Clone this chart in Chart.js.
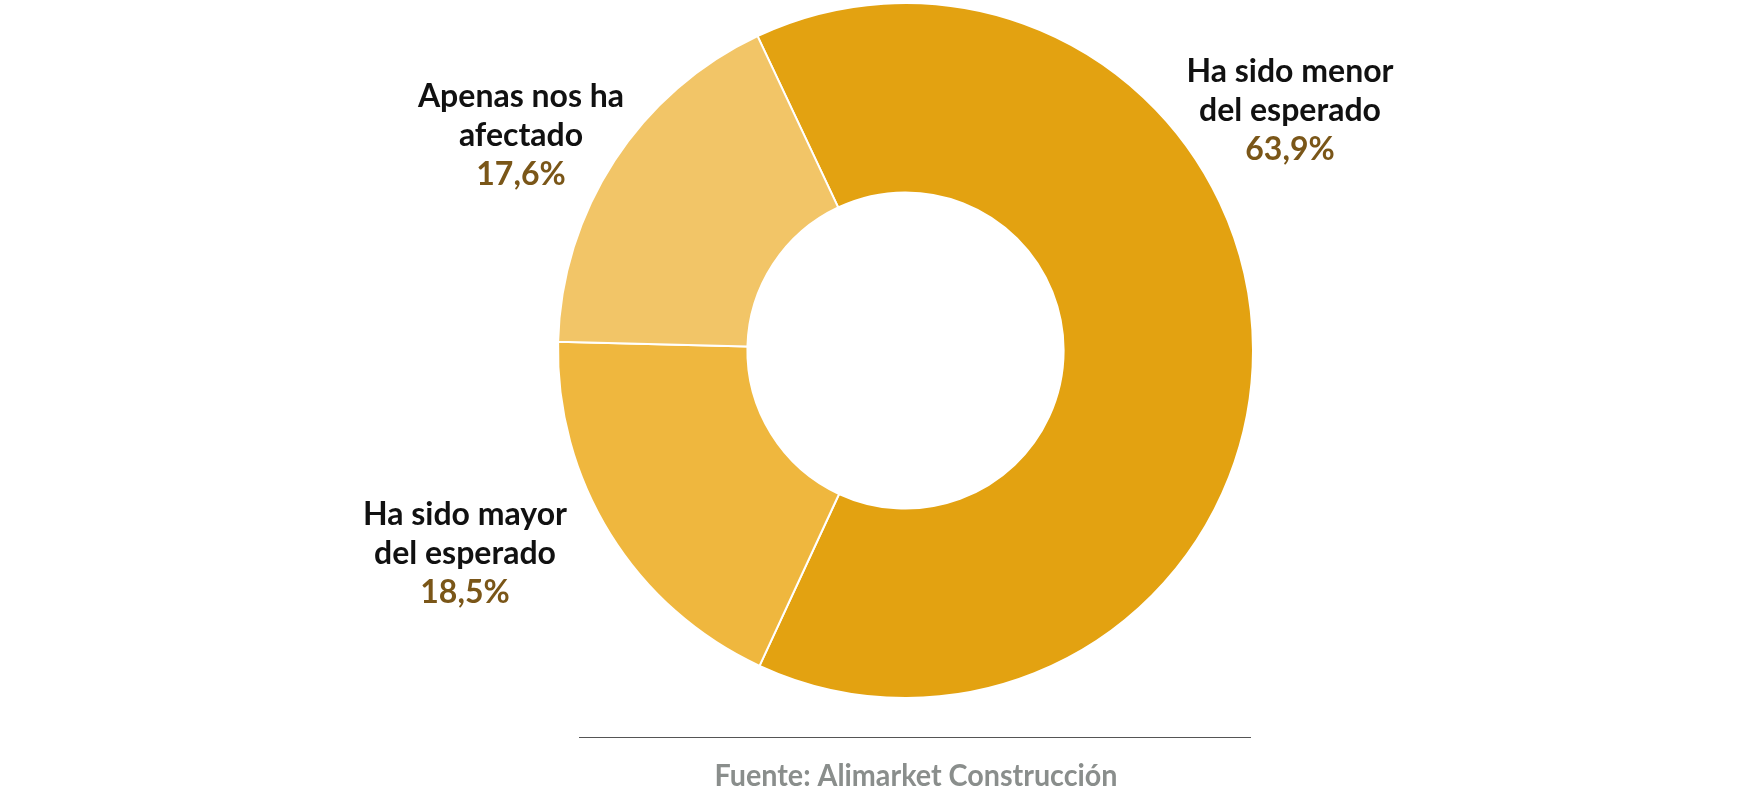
<!DOCTYPE html>
<html>
<head>
<meta charset="utf-8">
<script src="https://cdn.jsdelivr.net/npm/chart.js@4.4.1/dist/chart.umd.min.js"></script>
<style>
  html, body { margin: 0; padding: 0; background: #fff; }
  #wrap { width: 1760px; height: 795px; position: relative; }
</style>
</head>
<body>
<div id="wrap"><canvas id="chartDonut"></canvas></div>
<script>
// ================= DATI =================

const categorie = ["Ha sido menor del esperado", "Ha sido mayor del esperado", "Apenas nos ha afectado"];
const valori = [63.9, 18.5, 17.6];
const colori = ["#e3a211", "#efb73e", "#f2c567"];

// righe delle etichette e posizione (px) del centro del blocco di testo
const righeEtichette = [
    ["Ha sido menor", "del esperado"],
    ["Ha sido mayor", "del esperado"],
    ["Apenas nos ha", "afectado"]
];
const posEtichette = [
    { x: 1290, y: 82 },
    { x: 465, y: 525 },
    { x: 521, y: 107 }
];

const fonte = "Fuente: Alimarket Construcción";

const formatta = v => v.toFixed(1).replace(".", ",") + "%";

// ================= PLUGIN ETICHETTE =================

const etichette = {
    id: "etichette",
    afterDraw(chart) {
        const ctx = chart.ctx;
        ctx.save();
        ctx.textAlign = "center";
        ctx.textBaseline = "alphabetic";

        valori.forEach((v, i) => {
            const p = posEtichette[i];
            ctx.font = "bold 32px Lato";
            ctx.fillStyle = "#111111";
            righeEtichette[i].forEach((r, j) => {
                ctx.fillText(r, p.x, p.y + j * 39);
            });
            ctx.fillStyle = "#7a5618";
            ctx.fillText(formatta(v), p.x, p.y + righeEtichette[i].length * 39);
        });

        // linea e fonte
        ctx.strokeStyle = "#555555";
        ctx.lineWidth = 1;
        ctx.beginPath();
        ctx.moveTo(579, 737.5);
        ctx.lineTo(1251, 737.5);
        ctx.stroke();

        ctx.font = "bold 30px Lato";
        ctx.fillStyle = "#8a8e8c";
        ctx.fillText(fonte, 916, 786, 403);
        ctx.restore();
    }
};

// ================= GRAFICO =================

new Chart(document.getElementById("chartDonut").getContext("2d"), {
    type: "doughnut",
    data: {
        labels: categorie,
        datasets: [{
            data: valori,
            backgroundColor: colori,
            borderColor: "#ffffff",
            borderWidth: 2
        }]
    },
    options: {
        responsive: true,
        maintainAspectRatio: false,
        animation: false,
        rotation: -25.2,
        cutout: "45.5%",
        layout: {
            padding: { top: 2, bottom: 96, left: 51, right: 0 }
        },
        plugins: {
            legend: { display: false },
            tooltip: { enabled: false }
        }
    },
    plugins: [etichette]
});
</script>
</body>
</html>
